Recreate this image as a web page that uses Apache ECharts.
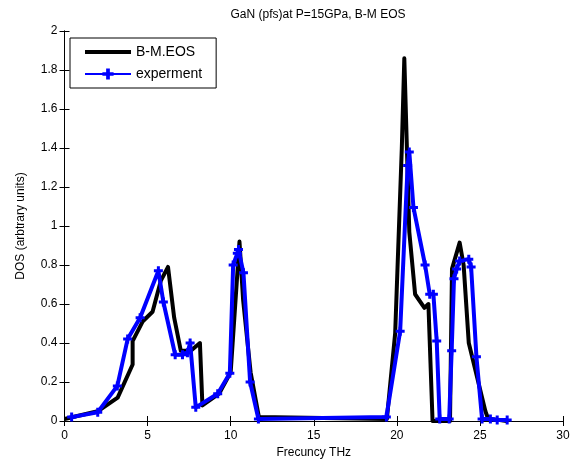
<!DOCTYPE html>
<html>
<head>
<meta charset="utf-8">
<script src="https://cdn.jsdelivr.net/npm/echarts@6/dist/echarts.min.js"></script>
<style>
  html, body { margin: 0; padding: 0; background: #fff; }
  #chart { width: 579px; height: 464px; }
</style>
</head>
<body>
<div id="chart"></div>
<script>
// Birch-Murnaghan EOS curve
var bmFreq = [0, 2, 3.2, 4.1, 4.1, 4.7, 5.3, 5.8, 6.23, 6.6, 7.0, 7.6, 8.15, 8.3, 9.3, 10.0, 10.53, 10.75, 11.2, 11.7,
              19.4, 19.9, 20.3, 20.45, 20.75, 21.1, 21.66, 21.9, 22.15, 23.2, 23.32, 23.78, 24.02, 24.33, 25.33, 25.5, 26.2, 26.6];
var bmDos  = [0.01, 0.05, 0.12, 0.29, 0.41, 0.51, 0.56, 0.72, 0.79, 0.53, 0.36, 0.36, 0.40, 0.08, 0.14, 0.25, 0.92, 0.62, 0.25, 0.02,
              0.01, 0.45, 1.40, 1.86, 0.97, 0.65, 0.58, 0.60, 0.0, 0.0, 0.78, 0.915, 0.80, 0.40, 0.05, 0.01, 0.005, 0.0];

// Experimental points
var expFreq = [0.43, 2.0, 3.18, 3.8, 4.55, 5.65, 5.95, 6.66, 7.1, 7.4, 7.56, 7.9, 9.22, 9.95, 10.15, 10.4, 10.47, 10.77, 11.17, 11.67,
               19.37, 20.2, 20.65, 20.75, 21.0, 21.7, 21.98, 22.2, 22.4, 22.58, 23.15, 23.3, 23.44, 23.6, 23.78, 24.33, 24.47, 24.79, 25.13, 25.63, 26.04, 26.64];
var expDos  = [0.02, 0.045, 0.18, 0.42, 0.53, 0.77, 0.61, 0.34, 0.34, 0.35, 0.40, 0.07, 0.14, 0.245, 0.80, 0.86, 0.88, 0.76, 0.20, 0.01,
               0.02, 0.46, 1.31, 1.38, 1.095, 0.80, 0.65, 0.65, 0.41, 0.01, 0.01, 0.36, 0.73, 0.78, 0.82, 0.83, 0.79, 0.33, 0.01, 0.01, 0.005, 0.005];

var xTicks = { min: 0, max: 30, interval: 5 };
var yTicks = { min: 0, max: 2, interval: 0.2 };

function pairs(xs, ys) {
  return xs.map(function (x, i) { return [x, ys[i]]; });
}

var font = 'Liberation Sans, Arial, sans-serif';
var plus = 'path://M-1,-3 H1 V-1 H3 V1 H1 V3 H-1 V1 H-3 V-1 H-1 Z';
var lineIcon = 'path://M0,0 H46 V4 H0 Z';

var baseX = {
  type: 'value', min: xTicks.min, max: xTicks.max, interval: xTicks.interval,
  axisLine: { show: true, lineStyle: { color: '#000', width: 1 } },
  axisTick: { show: true, inside: true, length: 5, lineStyle: { color: '#000' } },
  splitLine: { show: false }
};
var baseY = {
  type: 'value', min: yTicks.min, max: yTicks.max, interval: yTicks.interval,
  axisLine: { show: true, lineStyle: { color: '#000', width: 1 } },
  axisTick: { show: true, inside: true, length: 5, lineStyle: { color: '#000' } },
  splitLine: { show: false }
};

var chart = echarts.init(document.getElementById('chart'), null, { renderer: 'canvas' });
chart.setOption({
  animation: false,
  backgroundColor: '#fff',
  textStyle: { fontFamily: font },
  title: {
    text: 'GaN (pfs)at P=15GPa, B-M EOS',
    left: 313, top: 4, textAlign: 'center',
    textStyle: { fontFamily: font, fontSize: 12, fontWeight: 'normal', color: '#000' }
  },
  grid: { left: 64.5, right: 16, top: 31, bottom: 41 },
  legend: {
    orient: 'vertical', left: 70, top: 38,
    padding: [7, 14, 7, 14], itemGap: 8,
    itemWidth: 46, itemHeight: 14,
    borderColor: '#000', borderWidth: 1, backgroundColor: '#fff',
    symbolKeepAspect: true,
    textStyle: { fontFamily: font, fontSize: 14, color: '#000' },
    data: [
      { name: 'B-M.EOS', icon: lineIcon, itemStyle: { color: '#000' } },
      'experment'
    ]
  },
  xAxis: [
    Object.assign({}, baseX, {
      position: 'bottom', name: 'Frecuncy THz', nameLocation: 'middle', nameGap: 26,
      nameTextStyle: { fontFamily: font, fontSize: 12, color: '#000' },
      axisLabel: { color: '#000', fontSize: 12, margin: 9, fontFamily: font }
    }),
    Object.assign({}, baseX, { position: 'top', axisLabel: { show: false } })
  ],
  yAxis: [
    Object.assign({}, baseY, {
      position: 'left', name: 'DOS (arbtrary units)', nameLocation: 'middle', nameGap: 38,
      nameTextStyle: { fontFamily: font, fontSize: 12, color: '#000' },
      axisLabel: { color: '#000', fontSize: 12, margin: 7, fontFamily: font }
    }),
    Object.assign({}, baseY, { position: 'right', axisLabel: { show: false } })
  ],
  series: [
    {
      name: 'B-M.EOS', type: 'line', xAxisIndex: 0, yAxisIndex: 0,
      data: pairs(bmFreq, bmDos),
      symbol: 'none', showSymbol: false,
      lineStyle: { color: '#000', width: 4, join: 'round' },
      itemStyle: { color: '#000' },
      z: 2
    },
    {
      name: 'experment', type: 'line', xAxisIndex: 0, yAxisIndex: 0,
      data: pairs(expFreq, expDos),
      symbol: plus, symbolSize: 9, showSymbol: true,
      lineStyle: { color: '#0000ff', width: 4, join: 'round' },
      itemStyle: { color: '#0000ff', borderWidth: 0 },
      z: 3
    }
  ]
});
</script>
</body>
</html>
